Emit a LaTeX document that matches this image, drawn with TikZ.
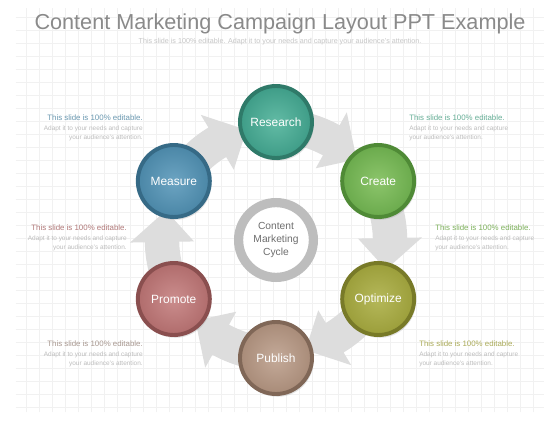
\documentclass[tikz,border=0pt]{standalone}
\usepackage{fontspec}
\setmainfont{Liberation Sans}
\usetikzlibrary{shadows}

\definecolor{titlegray}{HTML}{8A8A8A}
\definecolor{subgray}{HTML}{C6C6C6}
\definecolor{bodygray}{HTML}{BDBDBD}
\definecolor{gridgray}{HTML}{F1F1F1}
\definecolor{arrowgray}{HTML}{DDDDDD}
\definecolor{ringgray}{HTML}{BDBDBD}
\definecolor{hubtext}{HTML}{6E6E6E}
% circle tones: base, light, rim
\definecolor{research}{HTML}{3E9C87}\definecolor{researchlight}{HTML}{62BBA5}\definecolor{researchrim}{HTML}{2F7A69}
\definecolor{create}{HTML}{6AAA4C}\definecolor{createlight}{HTML}{8CC56B}\definecolor{createrim}{HTML}{4F8A36}
\definecolor{optimize}{HTML}{9B9E3A}\definecolor{optimizelight}{HTML}{B5B85A}\definecolor{optimizerim}{HTML}{787A28}
\definecolor{publish}{HTML}{A88B78}\definecolor{publishlight}{HTML}{C4AA99}\definecolor{publishrim}{HTML}{806757}
\definecolor{promote}{HTML}{B06C6C}\definecolor{promotelight}{HTML}{CB8D8D}\definecolor{promoterim}{HTML}{8A4F4F}
\definecolor{measure}{HTML}{4A86A6}\definecolor{measurelight}{HTML}{6CA4C2}\definecolor{measurerim}{HTML}{366A86}
% note heading colours
\definecolor{noteTL}{HTML}{6A98B0}\definecolor{noteTR}{HTML}{66AE96}
\definecolor{noteML}{HTML}{B07878}\definecolor{noteMR}{HTML}{7CB05A}
\definecolor{noteBL}{HTML}{A89890}\definecolor{noteBR}{HTML}{ABAB58}

\begin{document}
\begin{tikzpicture}[
  cyclenode/.style={circle,minimum size=1.8cm,line width=2.8pt,text=white,
    font=\fontsize{8.5}{10}\selectfont,
    draw=#1rim,inner color=#1light,outer color=#1,
    drop shadow={opacity=0.22,shadow xshift=0.04cm,shadow yshift=-0.07cm}},
  notehead/.style={inner sep=0pt,font=\fontsize{5.6}{6.7}\selectfont},
  notebody/.style={inner sep=0pt,text=bodygray,font=\fontsize{4.6}{6.7}\selectfont},
  bigarrow/.style={fill=arrowgray}]
	%Rahmen und Raster
	\useasboundingbox (0,0) rectangle (14,10.5);
	\fill[white] (0,0) rectangle (14,10.5);
	\draw[gridgray,line width=0.25pt] (0.4,0.2) grid[step=0.325] (13.6,10.3);
	%Titel
	\node[anchor=base,text=titlegray,font=\fontsize{15.4}{18}\selectfont] (title) at (7,9.76) {Content Marketing Campaign Layout PPT Example};
	\node[anchor=base,text=subgray,font=\fontsize{5.1}{6}\selectfont] (subtitle) at (7,9.42) {This slide is 100\% editable. Adapt it to your needs and capture your audience's attention.};
	%Pfeile
	\begin{scope}[shift={(6.9,4.5)}]
	\foreach \a in {90,30,-30,-90,-150,150}{
		\fill[bigarrow] (\a-4:3.28) arc[start angle=\a-4,end angle=\a-29,radius=3.28]
			-- (\a-29:3.65) -- (\a-45:2.85) -- (\a-29:2.05) -- (\a-29:2.42)
			arc[start angle=\a-29,end angle=\a-4,radius=2.42] -- cycle;
	}
	\end{scope}
	%Mitte
	\node[circle,draw=ringgray,line width=0.23cm,minimum size=1.87cm,fill=white,
		text=hubtext,align=center,font=\fontsize{7.3}{9.2}\selectfont] (hub) at (6.9,4.5) {Content\\Marketing\\Cycle};
	%Kreise
	\node[cyclenode=research] (research) at ([shift={(90:2.95)}]hub) {Research};
	\node[cyclenode=create] (create) at ([shift={(30:2.95)}]hub) {Create};
	\node[cyclenode=optimize] (optimize) at ([shift={(-30:2.95)}]hub) {Optimize};
	\node[cyclenode=publish] (publish) at ([shift={(-90:2.95)}]hub) {Publish};
	\node[cyclenode=promote] (promote) at ([shift={(210:2.95)}]hub) {Promote};
	\node[cyclenode=measure] (measure) at ([shift={(150:2.95)}]hub) {Measure};
	%Notizen links
	\node[notehead,text=noteTL,anchor=base east] (noteTL) at (3.575,7.49) {This slide is 100\% editable.};
	\node[notebody,anchor=north east,align=right] (noteTLbody) at ([yshift=-3.3pt]noteTL.base east) {Adapt it to your needs and capture\\your audience's attention.};
	\node[notehead,text=noteML,anchor=base east] (noteML) at (3.175,4.74) {This slide is 100\% editable.};
	\node[notebody,anchor=north east,align=right] (noteMLbody) at ([yshift=-3.3pt]noteML.base east) {Adapt it to your needs and capture\\your audience's attention.};
	\node[notehead,text=noteBL,anchor=base east] (noteBL) at (3.575,1.84) {This slide is 100\% editable.};
	\node[notebody,anchor=north east,align=right] (noteBLbody) at ([yshift=-3.3pt]noteBL.base east) {Adapt it to your needs and capture\\your audience's attention.};
	%Notizen rechts
	\node[notehead,text=noteTR,anchor=base west] (noteTR) at (10.225,7.49) {This slide is 100\% editable.};
	\node[notebody,anchor=north west,align=left] (noteTRbody) at ([yshift=-3.3pt]noteTR.base west) {Adapt it to your needs and capture\\your audience's attention.};
	\node[notehead,text=noteMR,anchor=base west] (noteMR) at (10.875,4.74) {This slide is 100\% editable.};
	\node[notebody,anchor=north west,align=left] (noteMRbody) at ([yshift=-3.3pt]noteMR.base west) {Adapt it to your needs and capture\\your audience's attention.};
	\node[notehead,text=noteBR,anchor=base west] (noteBR) at (10.475,1.84) {This slide is 100\% editable.};
	\node[notebody,anchor=north west,align=left] (noteBRbody) at ([yshift=-3.3pt]noteBR.base west) {Adapt it to your needs and capture\\your audience's attention.};
\end{tikzpicture}
\end{document}
